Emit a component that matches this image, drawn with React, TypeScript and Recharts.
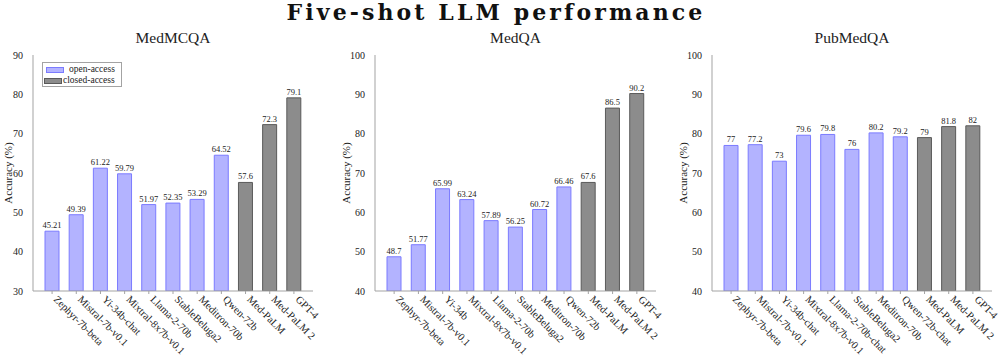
import { BarChart, Bar, XAxis, YAxis, Cell, LabelList } from 'recharts';

const MODELS_MEDMCQA = [
  'Zephyr-7b-beta', 'Mistral-7b-v0.1', 'Yi-34b-chat', 'Mixtral-8x7b-v0.1', 'Llama-2-70b',
  'StableBeluga2', 'Meditron-70b', 'Qwen-72b', 'Med-PaLM', 'Med-PaLM 2', 'GPT-4',
];
const ACC_MEDMCQA = [45.21, 49.39, 61.22, 59.79, 51.97, 52.35, 53.29, 64.52, 57.6, 72.3, 79.1];

const MODELS_MEDQA = [
  'Zephyr-7b-beta', 'Mistral-7b-v0.1', 'Yi-34b', 'Mixtral-8x7b-v0.1', 'Llama-2-70b',
  'StableBeluga2', 'Meditron-70b', 'Qwen-72b', 'Med-PaLM', 'Med-PaLM 2', 'GPT-4',
];
const ACC_MEDQA = [48.7, 51.77, 65.99, 63.24, 57.89, 56.25, 60.72, 66.46, 67.6, 86.5, 90.2];

const MODELS_PUBMEDQA = [
  'Zephyr-7b-beta', 'Mistral-7b-v0.1', 'Yi-34b-chat', 'Mixtral-8x7b-v0.1', 'Llama-2-70b-chat',
  'StableBeluga2', 'Meditron-70b', 'Qwen-72b-chat', 'Med-PaLM', 'Med-PaLM 2', 'GPT-4',
];
const ACC_PUBMEDQA = [77, 77.2, 73, 79.6, 79.8, 76, 80.2, 79.2, 79, 81.8, 82];

// open-access for the first eight models, closed-access for the last three
const ACCESS = ['open', 'open', 'open', 'open', 'open', 'open', 'open', 'open', 'closed', 'closed', 'closed'];

const TICKS_30_90 = [30, 40, 50, 60, 70, 80, 90];
const TICKS_40_100 = [40, 50, 60, 70, 80, 90, 100];

const LEGEND_LABELS = ['open-access', 'closed-access'];

const OPEN_FILL = '#b3b3ff';
const OPEN_STROKE = '#7b7bff';
const CLOSED_FILL = '#8c8c8c';
const CLOSED_STROKE = '#5a5a5a';
const FRAME = '#a3a3a3';
const TEXT = '#222';
const SERIF = '"Liberation Serif", "DejaVu Serif", serif';

const CHART_H = 357;

function RotTick({ x, y, payload }: any) {
  const x0 = x + 1;
  const y0 = y + 4;
  return (
    <text
      x={x0}
      y={y0}
      transform={`rotate(45 ${x0} ${y0})`}
      textAnchor="start"
      fontFamily={SERIF}
      fontSize={10.5}
      fill={TEXT}
    >
      {payload.value}
    </text>
  );
}

interface PanelProps {
  title: string;
  models: string[];
  values: number[];
  domain: [number, number];
  ticks: number[];
  left: number;
  width: number;
  yAxisWidth: number;
  marginRight: number;
  yLabelX: number;
  legend?: boolean;
}

function Panel({ title, models, values, domain, ticks, left, width, yAxisWidth, marginRight, yLabelX, legend }: PanelProps) {
  const rows = models.map((name, i) => ({ name, acc: values[i], access: ACCESS[i] }));
  const plotCenter = yAxisWidth + (width - yAxisWidth - marginRight) / 2;

  return (
    <div style={{ position: 'absolute', left, top: 0, width, height: CHART_H }}>
      <svg width={width} height={50} style={{ position: 'absolute', left: 0, top: 0 }}>
        <text x={plotCenter} y={43} textAnchor="middle" fontFamily={SERIF} fontSize={15.5} fill={TEXT}>
          {title}
        </text>
      </svg>
      <BarChart
        width={width}
        height={CHART_H}
        data={rows}
        margin={{ top: 55, right: marginRight, bottom: 6, left: 0 }}
        barSize={14}
      >
        <XAxis
          dataKey="name"
          height={60}
          interval={0}
          padding={{ left: 7, right: 7 }}
          stroke={FRAME}
          tickSize={3}
          tick={<RotTick />}
        />
        <XAxis
          xAxisId="top"
          dataKey="name"
          orientation="top"
          height={0}
          stroke={FRAME}
          tick={false}
          tickLine={false}
        />
        <YAxis
          domain={domain}
          ticks={ticks}
          type="number"
          allowDataOverflow
          width={yAxisWidth}
          stroke={FRAME}
          tickLine={false}
          tickMargin={4}
          tick={{ fontFamily: SERIF, fontSize: 10, fill: TEXT }}
          label={{
            content: (p: any) => {
              const cy = p.viewBox.y + p.viewBox.height / 2;
              return (
                <text
                  x={yLabelX}
                  y={cy}
                  transform={`rotate(-90 ${yLabelX} ${cy})`}
                  textAnchor="middle"
                  dominantBaseline="central"
                  fontFamily={SERIF}
                  fontSize={11}
                  fill={TEXT}
                >
                  Accuracy (%)
                </text>
              );
            },
          }}
        />
        <YAxis
          yAxisId="right"
          orientation="right"
          width={0}
          domain={[0, 1]}
          type="number"
          stroke={FRAME}
          tick={false}
          tickLine={false}
        />
        <Bar dataKey="acc" isAnimationActive={false} strokeWidth={1}>
          {rows.map((r, i) => (
            <Cell
              key={i}
              fill={r.access === 'open' ? OPEN_FILL : CLOSED_FILL}
              stroke={r.access === 'open' ? OPEN_STROKE : CLOSED_STROKE}
            />
          ))}
          <LabelList
            dataKey="acc"
            position="top"
            offset={3}
            style={{ fontFamily: SERIF, fontSize: 8.5, fill: TEXT }}
          />
        </Bar>
      </BarChart>
      {legend && (
        <div
          style={{
            position: 'absolute',
            left: 42,
            top: 62,
            width: 78,
            height: 23,
            border: `1px solid ${FRAME}`,
            background: '#fff',
            fontFamily: SERIF,
            fontSize: 9.5,
            color: TEXT,
            lineHeight: '11px',
          }}
        >
          {LEGEND_LABELS.map((lab, i) => (
            <div key={lab} style={{ display: 'flex', alignItems: 'center', height: 11, marginTop: i === 0 ? 1 : 0 }}>
              <span
                style={{
                  display: 'inline-block',
                  width: 16,
                  height: 4,
                  marginLeft: i === 0 ? 3 : 1,
                  marginRight: i === 0 ? 5 : 1,
                  background: i === 0 ? OPEN_FILL : CLOSED_FILL,
                  border: `1px solid ${i === 0 ? OPEN_STROKE : CLOSED_STROKE}`,
                }}
              />
              <span>{lab}</span>
            </div>
          ))}
        </div>
      )}
    </div>
  );
}

export default function App() {
  return (
    <div style={{ position: 'relative', width: 1000, height: CHART_H, background: '#fff', overflow: 'hidden' }}>
      <style>{'body{margin:0}'}</style>
      <svg width={1000} height={40} style={{ position: 'absolute', left: 0, top: 0 }}>
        <text
          x={496}
          y={20}
          textAnchor="middle"
          fontFamily='"DejaVu Serif", serif'
          fontWeight="bold"
          fontSize={22}
          letterSpacing={3.1}
          fill="#111"
        >
          Five-shot LLM performance
        </text>
      </svg>
      <Panel
        title="MedMCQA"
        models={MODELS_MEDMCQA}
        values={ACC_MEDMCQA}
        domain={[30, 90]}
        ticks={TICKS_30_90}
        left={0}
        width={330}
        yAxisWidth={33}
        marginRight={17}
        yLabelX={8}
        legend
      />
      <Panel
        title="MedQA"
        models={MODELS_MEDQA}
        values={ACC_MEDQA}
        domain={[40, 100]}
        ticks={TICKS_40_100}
        left={335}
        width={335}
        yAxisWidth={40}
        marginRight={14}
        yLabelX={11}
      />
      <Panel
        title="PubMedQA"
        models={MODELS_PUBMEDQA}
        values={ACC_PUBMEDQA}
        domain={[40, 100]}
        ticks={TICKS_40_100}
        left={670}
        width={330}
        yAxisWidth={42}
        marginRight={8}
        yLabelX={13}
      />
    </div>
  );
}
